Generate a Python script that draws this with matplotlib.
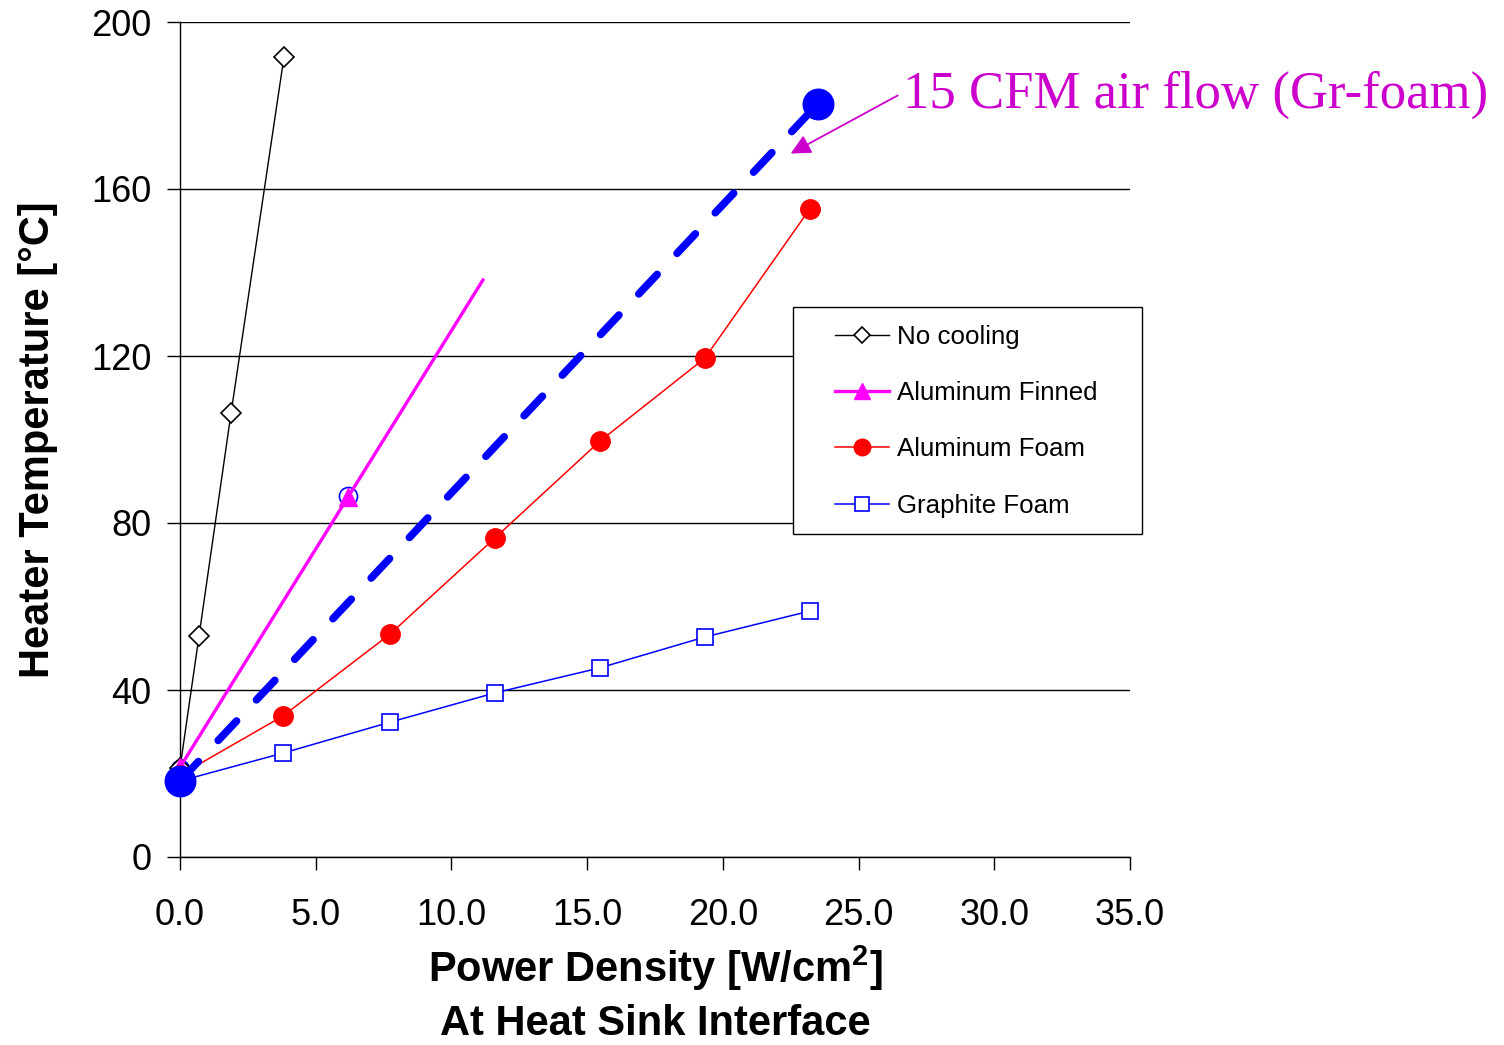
import matplotlib
matplotlib.use("Agg")
import matplotlib.pyplot as plt
from matplotlib.patches import Rectangle

plt.rcParams['font.family'] = ['Liberation Sans', 'DejaVu Sans']
plt.rcParams['mathtext.fontset'] = 'custom'
plt.rcParams['mathtext.rm'] = 'Liberation Sans'
plt.rcParams['mathtext.bf'] = 'Liberation Sans:bold'

# data
x_nocool = [0.0, 0.70, 1.88, 3.83]
y_nocool = [21.3, 52.9, 106.3, 191.6]

x_finned = [0.0, 6.19, 11.16]
y_finned = [21.5, 86.2, 138.2]

x_alfoam = [0.0, 3.80, 7.74, 11.60, 15.47, 19.34, 23.20]
y_alfoam = [19.6, 33.8, 53.4, 76.4, 99.6, 119.5, 155.2]

x_grfoam = [0.0, 3.80, 7.74, 11.60, 15.47, 19.34, 23.20]
y_grfoam = [18.2, 24.9, 32.3, 39.3, 45.3, 52.7, 58.9]

x_airflow = [0.0, 23.5]
y_airflow = [18.2, 180.4]

x_hidden = [0.0, 6.2]
y_hidden = [21.0, 86.5]

x_ticks = [0, 5, 10, 15, 20, 25, 30, 35]
y_ticks = [0, 40, 80, 120, 160, 200]

W, H = 1504, 1045
fig = plt.figure(figsize=(W / 100, H / 100), dpi=100)
ax = fig.add_axes([180 / W, 1 - 857 / H, (1130 - 180) / W, (857 - 22) / H])

ax.set_xlim(0, 35)
ax.set_ylim(0, 200)
ax.set_xticks(x_ticks)
ax.set_xticklabels(["%.1f" % v for v in x_ticks])
ax.set_yticks(y_ticks)
ax.tick_params(axis='both', direction='out', length=9.4, width=1, labelsize=26, colors='k')
ax.tick_params(axis='x', pad=20)
ax.tick_params(axis='y', pad=11)
for s in ['top', 'right']:
    ax.spines[s].set_visible(False)
for s in ['left', 'bottom']:
    ax.spines[s].set_linewidth(1)
ax.yaxis.grid(True, color='k', lw=1)
ax.set_axisbelow(True)

ax.plot(x_hidden, y_hidden, ls='none', marker='o', ms=13, mfc='none', mec='#0000FF',
        mew=1.2, clip_on=False, zorder=3)
ax.plot(x_nocool, y_nocool, color='k', lw=1, marker='D', ms=10, mfc='white', mec='k',
        mew=1.2, label='No cooling', clip_on=False, zorder=4)
ax.plot(x_finned, y_finned, color='#FF00FF', lw=2.4, marker='^', ms=13, mfc='#FF00FF',
        mec='#FF00FF', markevery=[0, 1], label='Aluminum Finned', clip_on=False, zorder=4)
ax.plot(x_alfoam, y_alfoam, color='#FF0000', lw=1.1, marker='o', ms=14, mfc='#FF0000',
        mec='#FF0000', label='Aluminum Foam', clip_on=False, zorder=4)
ax.plot(x_grfoam, y_grfoam, color='#0000FF', lw=1.1, marker='s', ms=12, mfc='white',
        mec='#0000FF', mew=1.2, label='Graphite Foam', clip_on=False, zorder=4)
air, = ax.plot(x_airflow, y_airflow, color='#0000FF', lw=5.5, ls='--', dash_capstyle='round',
               clip_on=False, zorder=5)
air.set_dashes([3.5, 3.8])
ax.plot(x_airflow, y_airflow, ls='none', marker='o', ms=22, mfc='#0000FF', mec='#0000FF',
        clip_on=False, zorder=6)

ax.annotate('15 CFM air flow (Gr-foam)', xy=(22.5, 168.5),
            xytext=(903, H - 95), textcoords='figure pixels',
            fontsize=38, family='Liberation Serif', color='#CC00CC',
            ha='left', va='center',
            arrowprops=dict(arrowstyle='-|>', color='#CC00CC', lw=1.3,
                            mutation_scale=30, shrinkA=2, shrinkB=0,
                            relpos=(0, 0.55)),
            annotation_clip=False)

ax.set_xlabel('Power Density [W/cm$^\\mathbf{2}$]\nAt Heat Sink Interface', fontsize=30,
              fontweight='bold', linespacing=1.33, labelpad=8)
ax.set_ylabel('Heater Temperature [°C]', fontsize=30, fontweight='bold', labelpad=24)

# legend box with white fill hides the gridlines behind it
ax.add_patch(Rectangle((793 / W, 1 - 534 / H), (1142 - 793) / W, (534 - 307) / H,
                       transform=fig.transFigure, fc='white', ec='k', lw=1,
                       clip_on=False, zorder=4.5))
leg = ax.legend(loc='upper left', bbox_to_anchor=(822 / W, 1 - 312 / H),
                bbox_transform=fig.transFigure, frameon=False, fontsize=18.6,
                borderpad=0, labelspacing=1.25, handlelength=2.1, handletextpad=0.3,
                markerscale=0.85)
leg.set_zorder(6)

fig.savefig('out.png', dpi=100)
